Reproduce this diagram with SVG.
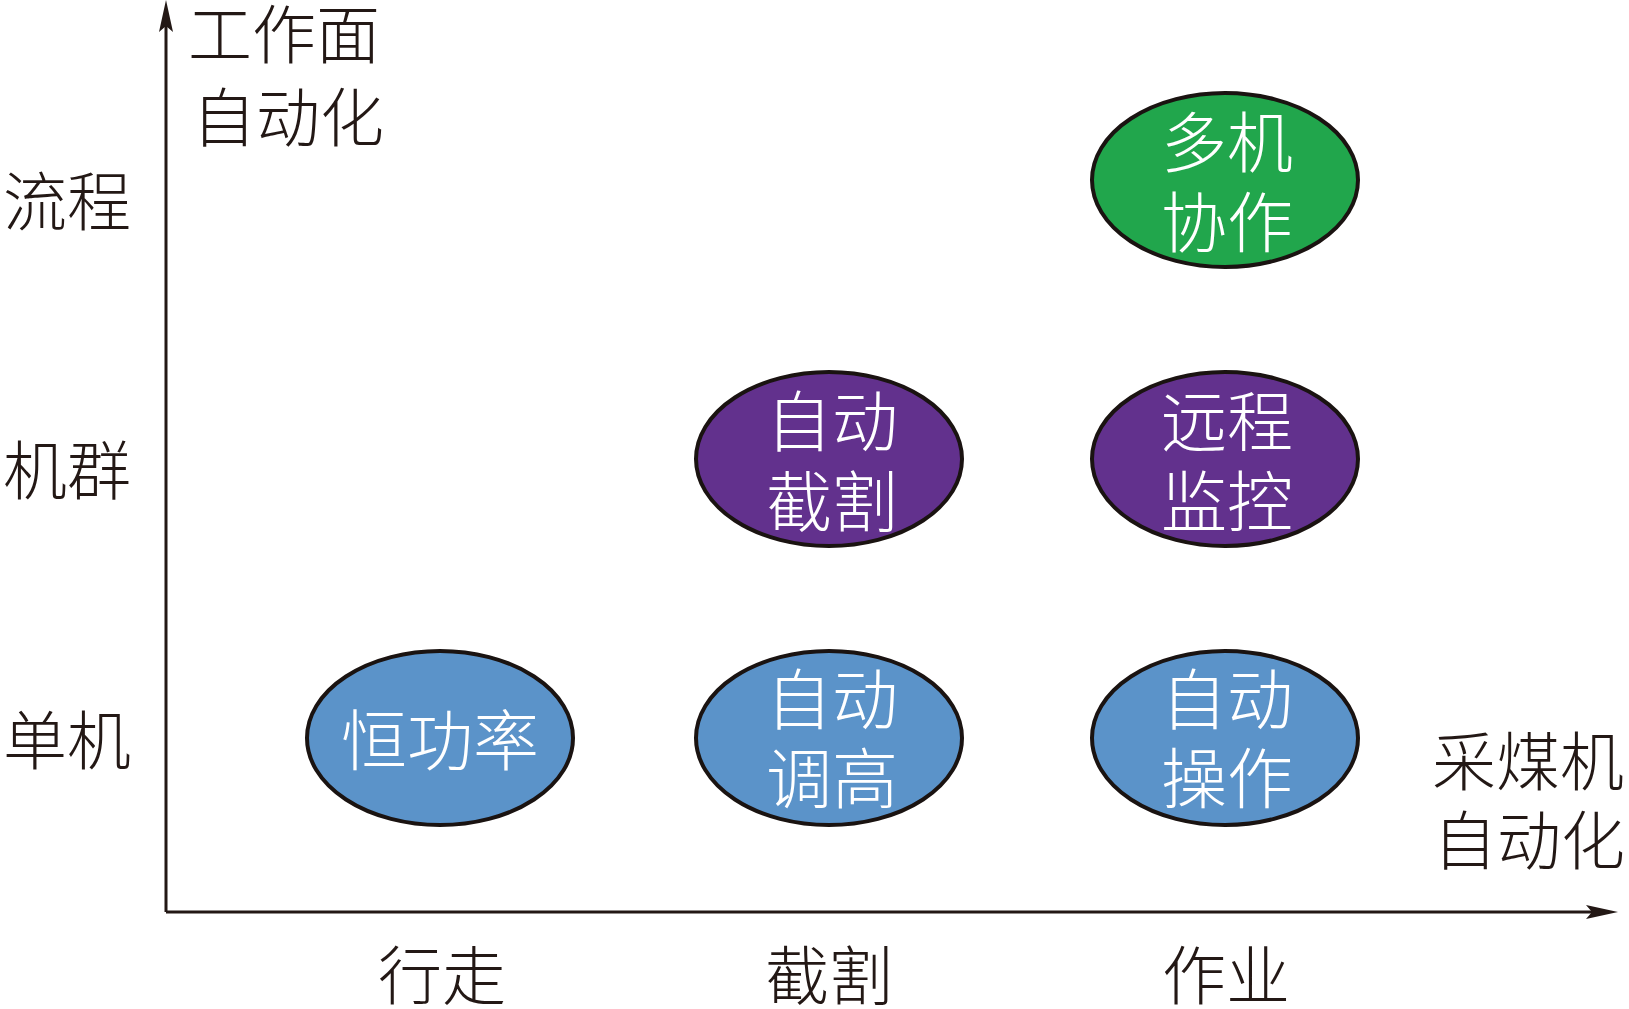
<svg xmlns="http://www.w3.org/2000/svg" width="1629" height="1009" viewBox="0 0 1629 1009">
<defs>
<style>
.lbl{font-family:"Noto Sans CJK SC","Noto Sans",sans-serif;font-weight:300;font-size:64px;fill:#231815}
.in{font-family:"Noto Sans CJK SC","Noto Sans",sans-serif;font-weight:300;font-size:66px;fill:#ffffff;text-anchor:middle}
.node{stroke:#1a1311;stroke-width:4}
.blue{fill:#5b93c9}
.purple{fill:#62318d}
.green{fill:#21a64c}
.axis{stroke:#231815;stroke-width:3;fill:none}
</style>
</defs>
<rect width="1629" height="1009" fill="#ffffff"/>
<g id="connectors">
<line class="axis" x1="166" y1="912" x2="166" y2="20"/>
<path d="M166,0 L159,32 L166,26 L173,32 Z" fill="#231815"/>
<line class="axis" x1="166" y1="912" x2="1600" y2="912"/>
<path d="M1618,912 L1586,905 L1592,912 L1586,919 Z" fill="#231815"/>
</g>
<g id="axis-labels">
<text class="lbl" x="188" y="58">工作面</text>
<text class="lbl" x="192" y="141">自动化</text>
<text class="lbl" x="3" y="225">流程</text>
<text class="lbl" x="3" y="494">机群</text>
<text class="lbl" x="3" y="764">单机</text>
<text class="lbl" x="1432" y="785">采煤机</text>
<text class="lbl" x="1433" y="864">自动化</text>
<text class="lbl" x="378" y="999">行走</text>
<text class="lbl" x="765" y="999">截割</text>
<text class="lbl" x="1162" y="999">作业</text>
</g>
<g id="node-duoji">
<ellipse class="node green" cx="1225" cy="180" rx="133" ry="87"/>
<text class="in" x="1227" y="167">多机</text>
<text class="in" x="1227" y="247">协作</text>
</g>
<g id="node-zidongjiege">
<ellipse class="node purple" cx="829" cy="459" rx="133" ry="87"/>
<text class="in" x="832" y="446">自动</text>
<text class="in" x="832" y="526">截割</text>
</g>
<g id="node-yuancheng">
<ellipse class="node purple" cx="1225" cy="459" rx="133" ry="87"/>
<text class="in" x="1227" y="446">远程</text>
<text class="in" x="1227" y="526">监控</text>
</g>
<g id="node-henggonglv">
<ellipse class="node blue" cx="440" cy="738" rx="133" ry="87"/>
<text class="in" x="440" y="765">恒功率</text>
</g>
<g id="node-zidongtiaogao">
<ellipse class="node blue" cx="829" cy="738" rx="133" ry="87"/>
<text class="in" x="832" y="724">自动</text>
<text class="in" x="832" y="803">调高</text>
</g>
<g id="node-zidongcaozuo">
<ellipse class="node blue" cx="1225" cy="738" rx="133" ry="87"/>
<text class="in" x="1227" y="724">自动</text>
<text class="in" x="1227" y="803">操作</text>
</g>
</svg>
